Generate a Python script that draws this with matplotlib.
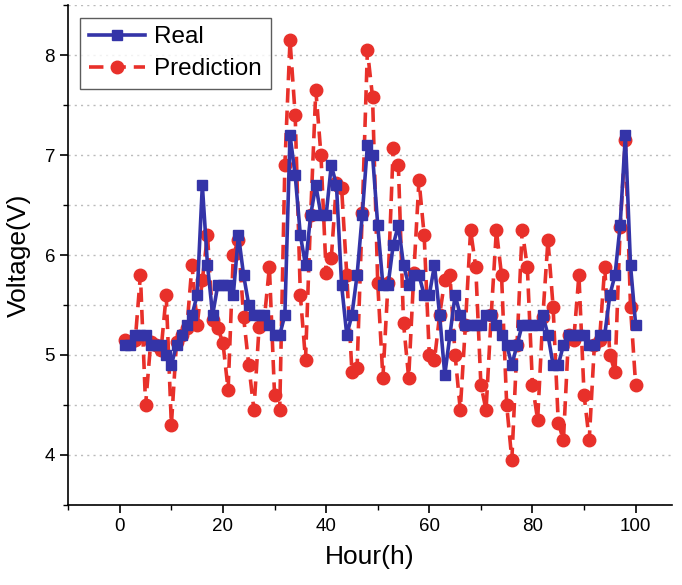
import matplotlib
matplotlib.use("Agg")
import matplotlib.pyplot as plt
from matplotlib.ticker import MultipleLocator

hours = list(range(1, 101))

real = [5.1, 5.1, 5.2, 5.2, 5.2, 5.1, 5.1, 5.1, 5.0, 4.9,
        5.1, 5.2, 5.3, 5.4, 5.6, 6.7, 5.9, 5.4, 5.7, 5.7,
        5.7, 5.6, 6.2, 5.8, 5.5, 5.4, 5.4, 5.4, 5.3, 5.2,
        5.2, 5.4, 7.2, 6.8, 6.2, 5.9, 6.4, 6.7, 6.4, 6.4,
        6.9, 6.7, 5.7, 5.2, 5.4, 5.8, 6.4, 7.1, 7.0, 6.3,
        5.7, 5.7, 6.1, 6.3, 5.9, 5.7, 5.8, 5.8, 5.6, 5.6,
        5.9, 5.4, 4.8, 5.2, 5.6, 5.4, 5.3, 5.3, 5.3, 5.3,
        5.4, 5.4, 5.3, 5.2, 5.1, 4.9, 5.1, 5.3, 5.3, 5.3,
        5.3, 5.4, 5.2, 4.9, 4.9, 5.1, 5.2, 5.2, 5.2, 5.2,
        5.1, 5.1, 5.2, 5.2, 5.6, 5.8, 6.3, 7.2, 5.9, 5.3]

prediction = [5.15, 5.12, 5.15, 5.8, 4.5, 5.13, 5.1, 5.05, 5.6, 4.3,
              5.13, 5.2, 5.27, 5.9, 5.3, 5.75, 6.2, 5.35, 5.27, 5.12,
              4.65, 6.0, 6.15, 5.38, 4.9, 4.45, 5.28, 5.35, 5.88, 4.6,
              4.45, 6.9, 8.15, 7.4, 5.6, 4.95, 6.4, 7.65, 7.0, 5.82,
              5.97, 6.72, 6.67, 5.8, 4.83, 4.87, 6.42, 8.05, 7.58, 5.72,
              4.77, 5.72, 7.07, 6.9, 5.32, 4.77, 5.82, 6.75, 6.2, 5.0,
              4.95, 5.4, 5.75, 5.8, 5.0, 4.45, 5.3, 6.25, 5.88, 4.7,
              4.45, 5.4, 6.25, 5.8, 4.5, 3.95, 5.1, 6.25, 5.88, 4.7,
              4.35, 5.38, 6.15, 5.48, 4.32, 4.15, 5.2, 5.15, 5.8, 4.6,
              4.15, 5.1, 5.15, 5.88, 5.0, 4.83, 6.28, 7.15, 5.48, 4.7]

plt.rcParams['font.family'] = ['Liberation Sans', 'DejaVu Sans']

fig = plt.figure(figsize=(6.82, 5.85), dpi=100)
ax = fig.add_axes([0.1, 0.137, 0.885, 0.854])

ax.plot(hours, real, color='#3434A8', lw=2.6, marker='s', ms=7,
        label='Real', zorder=3)
ax.plot(hours, prediction, color='#E8302A', lw=2.6, ls=(0, (4, 2.2)),
        marker='o', ms=9, label='Prediction', zorder=2)

ax.set_xlim(-10, 107)
ax.set_ylim(3.5, 8.5)
ax.xaxis.set_major_locator(MultipleLocator(20))
ax.xaxis.set_minor_locator(MultipleLocator(10))
ax.yaxis.set_major_locator(MultipleLocator(1))
ax.yaxis.set_minor_locator(MultipleLocator(0.5))

ax.grid(True, which='both', axis='y', color='#BBBBBB', ls=(0, (1.5, 3)), lw=1.0)
ax.set_axisbelow(True)

for s in ['top', 'right']:
    ax.spines[s].set_visible(False)
for s in ['left', 'bottom']:
    ax.spines[s].set_linewidth(1.2)

ax.tick_params(axis='both', which='major', direction='out', length=6, width=1.2,
               labelsize=13.5)
ax.tick_params(axis='both', which='minor', direction='out', length=3.5, width=1.0)

ax.set_xlabel('Hour(h)', fontsize=19, labelpad=7)
ax.set_ylabel('Voltage(V)', fontsize=19, labelpad=10)

leg = ax.legend(loc='upper left', fontsize=17.5, frameon=True, fancybox=False,
                edgecolor='#333333', handlelength=2.3, borderpad=0.35,
                labelspacing=0.4, handletextpad=0.4, borderaxespad=0,
                bbox_to_anchor=(0.02, 0.975))
leg.get_frame().set_linewidth(1.0)

fig.savefig('out.png', dpi=100)
